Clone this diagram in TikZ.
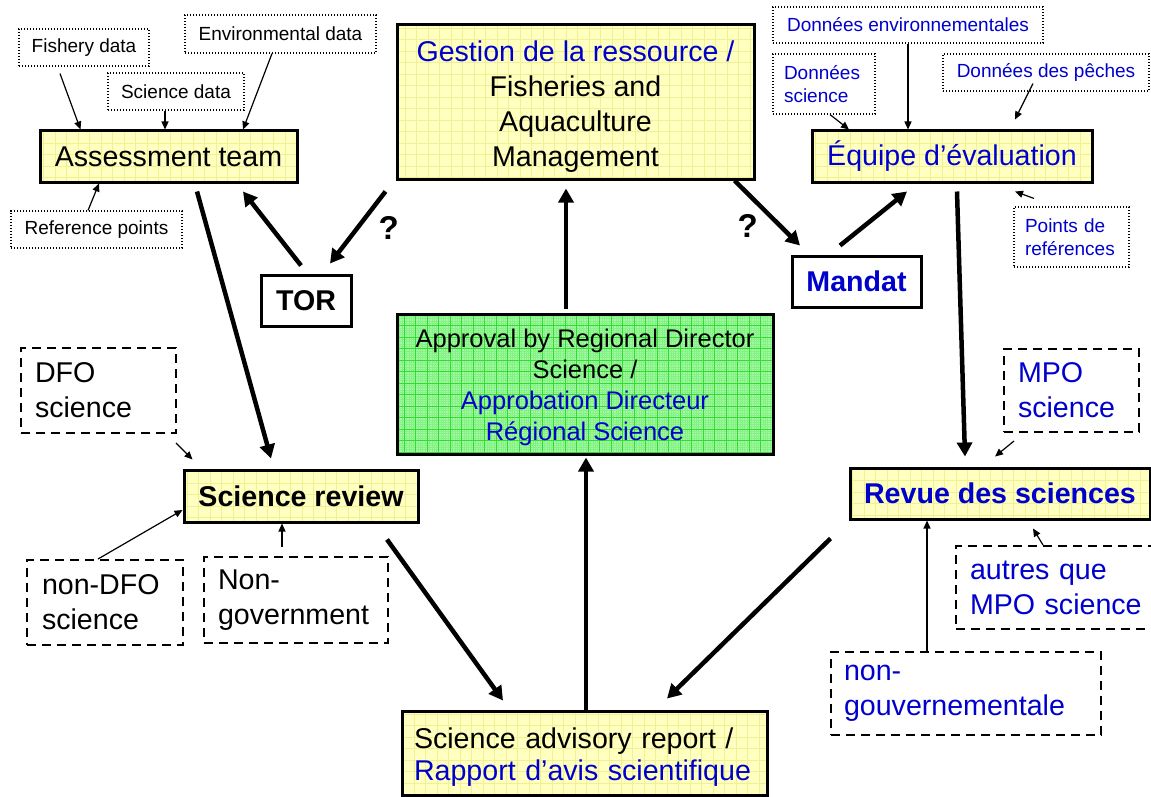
\documentclass[tikz,border=0pt]{standalone}
\usepackage{fontspec}
\setmainfont{Liberation Sans}
\usetikzlibrary{arrows.meta}

\definecolor{frblue}{RGB}{0,0,204}
\definecolor{boxyellow}{RGB}{255,255,192}
\definecolor{gridyellow}{RGB}{240,240,150}
\definecolor{boxgreen}{RGB}{160,252,160}
\definecolor{gridgreen}{RGB}{50,220,50}
\definecolor{gridgreenfine}{RGB}{135,240,135}

\newcommand\boxfont{\fontsize{28.6}{35}\selectfont}
\newcommand\reportfont{\fontsize{28.6}{31.5}\selectfont}
\newcommand\apprfont{\fontsize{25.5}{31}\selectfont}
\newcommand\labfont{\fontsize{19}{23}\selectfont}

\tikzset{
  mainbox/.style={rectangle, draw, line width=3pt, fill=boxyellow, font=\boxfont, inner sep=0pt,
    path picture={\draw[gridyellow, line width=0.6pt] (path picture bounding box.south west) grid[step=11.5pt] (path picture bounding box.north east);}},
  greenbox/.style={rectangle, draw, line width=3pt, fill=boxgreen, font=\apprfont, inner sep=0pt, align=center,
    path picture={\draw[gridgreenfine, line width=0.3pt] (path picture bounding box.south west) grid[step=2.3pt] (path picture bounding box.north east);
                  \draw[gridgreen, line width=0.6pt] (path picture bounding box.south west) grid[step=11.5pt] (path picture bounding box.north east);}},
  plainbox/.style={rectangle, draw, line width=3pt, fill=white, font=\boxfont\bfseries, inner sep=0pt},
  datalabel/.style={rectangle, draw, dash pattern=on 1.4pt off 1.6pt, line width=1.1pt, font=\labfont, inner sep=0pt},
  sourcebox/.style={rectangle, draw, dash pattern=on 9pt off 6pt, line width=2pt, font=\boxfont, align=left},
  flow/.style={line width=4.5pt, -{Triangle[length=14pt,width=15pt]}},
  feed/.style={line width=1.2pt, -{Triangle[length=8pt,width=7pt]}},
  qmark/.style={font=\fontsize{33}{33}\selectfont\bfseries, inner sep=0pt}
}

\begin{document}
\begin{tikzpicture}[x=1pt,y=-1pt]
\useasboundingbox (0,0) rectangle (1151,797);

%Assessment team
\node[mainbox, minimum width=257pt, minimum height=51pt] (assess) at (168.5,156.5) {Assessment team};
\node[datalabel, minimum width=130pt, minimum height=37pt] (fishery) at (84,47.5) {Fishery data};
\node[datalabel, minimum width=136pt, minimum height=37pt] (scidata) at (176,91.5) {Science data};
\node[datalabel, minimum width=191pt, minimum height=38pt] (envdata) at (280.5,34) {Environmental data};
\node[datalabel, minimum width=171pt, minimum height=37pt] (refpts) at (96.5,229.5) {Reference points};

%Gestion
\node[mainbox, align=center, minimum width=357pt, minimum height=154pt] (gestion) at (575.5,102) {\rule{0pt}{29pt}\textcolor{frblue}{Gestion de la ressource /}\\Fisheries and\\Aquaculture\\Management};

%TOR and Mandat
\node[plainbox, minimum width=90pt, minimum height=51pt] (tor) at (306,300.5) {TOR};
\node[plainbox, text=frblue, minimum width=129pt, minimum height=51pt] (mandat) at (856.5,281.5) {Mandat};

%Equipe
\node[mainbox, text=frblue, minimum width=280pt, minimum height=51pt] (equipe) at (952,156.5) {Équipe d’évaluation};
\node[datalabel, text=frblue, minimum width=270pt, minimum height=36pt] (donenv) at (908,25) {Données environnementales};
\node[datalabel, text=frblue, align=left, text width=80pt, inner xsep=11pt, minimum height=60pt] (donsci) at (824,84) {Données\\science};
\node[datalabel, text=frblue, minimum width=206pt, minimum height=37pt] (donpeche) at (1046,72.5) {Données des pêches};
\node[datalabel, text=frblue, align=left, text width=93pt, inner xsep=11pt, minimum height=60pt] (ptsref) at (1071.5,237) {Points de\\reférences};

%Approval
\node[greenbox, minimum width=376pt, minimum height=140pt] (approval) at (585,384) {\rule{0pt}{25pt}Approval by Regional Director\\Science /\\\textcolor{frblue}{Approbation Directeur}\\\textcolor{frblue}{Régional Science}};

%Science review
\node[mainbox, font=\boxfont\bfseries, minimum width=234pt, minimum height=52pt] (review) at (301,496) {Science review};
\node[sourcebox, text width=127pt, inner xsep=14pt, minimum height=85pt] (dfo) at (98.5,390.5) {DFO\\science};
\node[sourcebox, text width=126pt, inner xsep=15pt, minimum height=85pt] (nondfo) at (105,602.5) {non-DFO\\science};
\node[sourcebox, text width=156pt, inner xsep=14pt, minimum height=86pt] (nongov) at (296,600) {Non-\\government};

%Revue
\node[mainbox, text=frblue, font=\boxfont\bfseries, minimum width=300pt, minimum height=51pt] (revue) at (1000,493.5) {Revue des sciences};
\node[sourcebox, text=frblue, text width=107pt, inner xsep=14pt, minimum height=83pt] (mpo) at (1071.5,390.5) {MPO\\science};
\node[sourcebox, text=frblue, text width=181pt, inner xsep=14pt, minimum height=83pt] (autres) at (1060.5,587.5) {autres que\\MPO science};
\node[sourcebox, text=frblue, text width=244pt, inner xsep=13pt, minimum height=83pt] (nongouv) at (966,693.5) {non-\\gouvernementale};

%Report
\node[mainbox, font=\reportfont, align=left, text width=341pt, inner xsep=12pt, minimum height=84pt] (report) at (584.5,753) {\rule{0pt}{29pt}Science advisory report /\\\textcolor{frblue}{Rapport d’avis scientifique}};

%Data inputs
\draw[feed] ([xshift=-24pt,yshift=-7pt]fishery.south) -- ([xshift=-88pt]assess.north);
\draw[feed] ([xshift=-11pt]scidata.south) -- ([xshift=-3.5pt]assess.north);
\draw[feed] ([xshift=-8.5pt]envdata.south) -- ([xshift=74.5pt]assess.north);
\draw[feed] ([xshift=-8.5pt]refpts.north) -- ([xshift=-69.5pt]assess.south);
\draw[feed] (donenv.south) -- ([xshift=-44pt]equipe.north);
\draw[feed] ([xshift=6pt]donsci.south) -- ([xshift=-103pt]equipe.north);
\draw[feed] ([xshift=-13pt,yshift=8pt]donpeche.south) -- ([xshift=63pt,yshift=10pt]equipe.north);
\draw[feed] ([xshift=-37.5pt,yshift=8pt]ptsref.north) -- ([xshift=63pt,yshift=-8pt]equipe.south);

%Review inputs
\draw[feed] ([xshift=-1pt,yshift=-9pt]dfo.south east) -- ([xshift=10pt,yshift=9pt]review.north west);
\draw[feed] ([xshift=-7pt]nondfo.north) -- ([yshift=-14pt]review.west);
\draw[feed] ([xshift=-14pt,yshift=9pt]nongov.north) -- ([xshift=-19pt]review.south);
\draw[feed] ([xshift=-57.5pt,yshift=-8pt]mpo.south) -- ([xshift=-5pt,yshift=10pt]revue.north);
\draw[feed] ([xshift=-17.5pt]autres.north) -- ([xshift=33pt,yshift=-8pt]revue.south);
\draw[feed] ([xshift=-39pt]nongouv.north) -- ([xshift=-73pt]revue.south);

%Main flow
\draw[flow] ([xshift=-10pt,yshift=-11pt]gestion.south west) -- ([xshift=24pt,yshift=10pt]tor.north) node[qmark, midway, xshift=31pt] {?};
\draw[flow] ([xshift=-5pt,yshift=8pt]tor.north) -- ([xshift=74.5pt,yshift=-8pt]assess.south);
\draw[flow] ([xshift=-21pt]gestion.south east) -- ([xshift=-56.5pt,yshift=9pt]mandat.north) node[qmark, midway, xshift=-19.5pt, yshift=-13pt] {?};
\draw[flow] ([xshift=-16.5pt,yshift=9pt]mandat.north) -- ([xshift=-45pt,yshift=-8pt]equipe.south);
\draw[flow] ([xshift=28.5pt,yshift=-8pt]assess.south) -- ([xshift=-30pt,yshift=10pt]review.north);
\draw[flow] ([xshift=5pt,yshift=-8pt]equipe.south) -- ([xshift=-35pt,yshift=10pt]revue.north);
\draw[flow] ([xshift=86pt,yshift=-16pt]review.south) -- ([xshift=-81.5pt,yshift=9pt]report.north);
\draw[flow] ([xshift=-18pt,yshift=-18pt]revue.south west) -- ([xshift=82.5pt,yshift=11pt]report.north);
\draw[flow] ([xshift=1.5pt]report.north) -- ([xshift=1pt,yshift=-2pt]approval.south);
\draw[flow] ([xshift=-19pt,yshift=4pt]approval.north) -- ([xshift=-9.5pt,yshift=-8pt]gestion.south);

\end{tikzpicture}
\end{document}
